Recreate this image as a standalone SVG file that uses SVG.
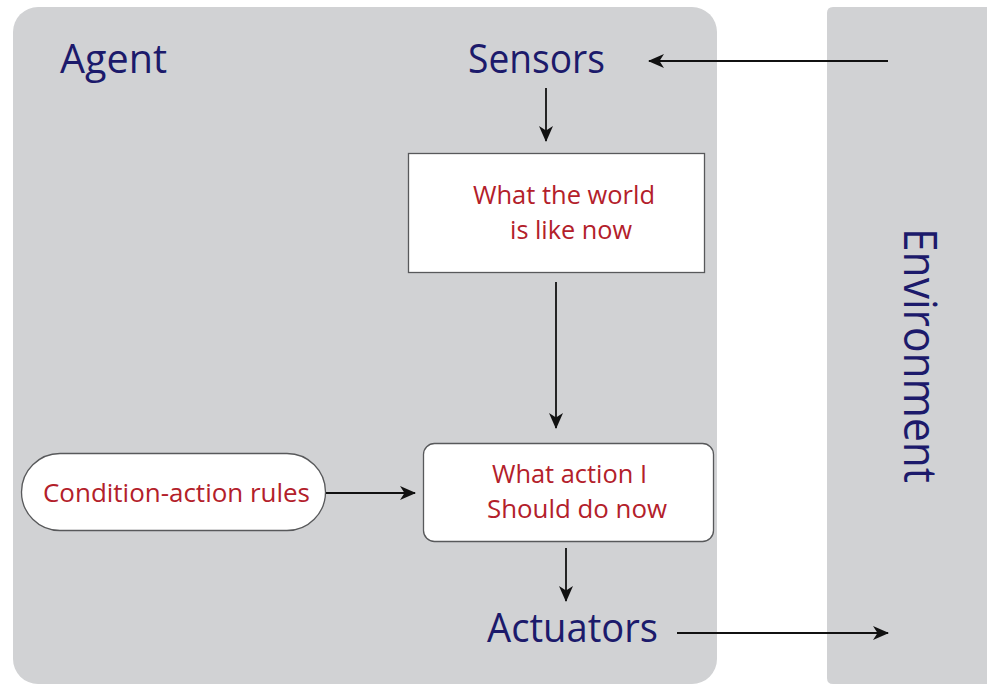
<svg xmlns="http://www.w3.org/2000/svg" width="987" height="685" viewBox="0 0 987 685">
  <style>
    .panel { fill: #d1d2d4; }
    .box { fill: #ffffff; stroke: #58595b; stroke-width: 1.3; }
    .title { font-family: "Open Sans", "Noto Sans", sans-serif; fill: #1c1a6b; }
    .label { font-family: "Open Sans", "Noto Sans", sans-serif; fill: #b3202a; font-size: 25px; }
    .link { stroke: #111111; stroke-width: 1.8; fill: none; marker-end: url(#arrow); }
  </style>
  <defs>
    <marker id="arrow" markerUnits="userSpaceOnUse" markerWidth="18" markerHeight="16" refX="15" refY="8" orient="auto">
      <path d="M0,1 L16,8 L0,15 L4.5,8 Z" fill="#111111"/>
    </marker>
  </defs>

  <rect width="987" height="685" fill="#ffffff"/>

  <!-- Agent container -->
  <g id="agent">
    <rect class="panel" x="13" y="7" width="704" height="677" rx="25" ry="25"/>
    <text class="title" x="60" y="73" font-size="40" textLength="107" lengthAdjust="spacingAndGlyphs">Agent</text>
  </g>

  <!-- Environment container -->
  <g id="environment">
    <path class="panel" d="M833,7 H987 V684 H833 Q827,684 827,678 V13 Q827,7 833,7 Z"/>
    <text class="title" font-size="46" transform="translate(904,228) rotate(90)" textLength="255" lengthAdjust="spacingAndGlyphs">Environment</text>
  </g>

  <g id="sensors">
    <text class="title" x="468" y="73" font-size="40" textLength="137" lengthAdjust="spacingAndGlyphs">Sensors</text>
  </g>

  <g id="world-state">
    <rect class="box" x="408.5" y="153.5" width="296" height="119"/>
    <text class="label" x="473" y="204" textLength="182" lengthAdjust="spacingAndGlyphs">What the world</text>
    <text class="label" x="510" y="239" textLength="122" lengthAdjust="spacingAndGlyphs">is like now</text>
  </g>

  <g id="rules">
    <rect class="box" x="21.5" y="453.5" width="304" height="77" rx="38.5" ry="38.5"/>
    <text class="label" x="43" y="502" font-size="26" textLength="267" lengthAdjust="spacingAndGlyphs">Condition-action rules</text>
  </g>

  <g id="decision">
    <rect class="box" x="423.5" y="443.5" width="290" height="98" rx="11" ry="11"/>
    <text class="label" x="492" y="483" textLength="155" lengthAdjust="spacingAndGlyphs">What action I</text>
    <text class="label" x="487" y="518" textLength="180" lengthAdjust="spacingAndGlyphs">Should do now</text>
  </g>

  <g id="actuators">
    <text class="title" x="487" y="642" font-size="40" textLength="171" lengthAdjust="spacingAndGlyphs">Actuators</text>
  </g>

  <!-- Connectors -->
  <g id="connectors">
    <line class="link" x1="888" y1="61" x2="649" y2="61"/>
    <line class="link" x1="546" y1="88" x2="546" y2="141"/>
    <line class="link" x1="556" y1="282" x2="556" y2="428"/>
    <line class="link" x1="326" y1="493" x2="415" y2="493"/>
    <line class="link" x1="566" y1="548" x2="566" y2="601"/>
    <line class="link" x1="677" y1="633" x2="888" y2="633"/>
  </g>
</svg>
